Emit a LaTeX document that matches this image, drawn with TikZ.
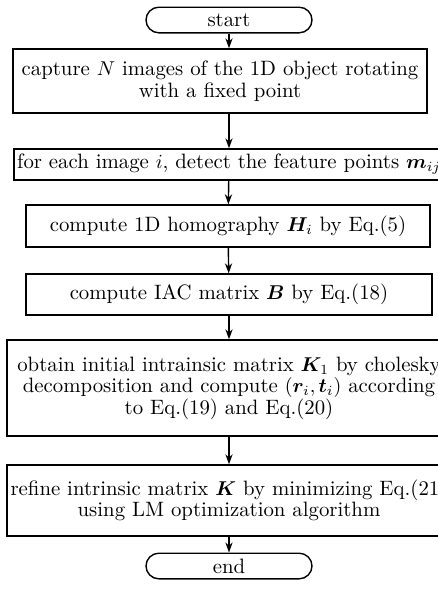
\documentclass[tikz,border=0pt]{standalone}
\usepackage{amsmath,amssymb,bm}
\usepackage{tikz}
\usetikzlibrary{arrows.meta}

\begin{document}
\begin{tikzpicture}[x=0.5pt, y=-0.5pt, line width=0.7pt, font=\fontsize{10.4}{10.8}\selectfont,
  flowbox/.style={draw, align=center, inner sep=0pt},
  termbox/.style={draw, rounded corners=6.4pt, minimum width=83pt, minimum height=12.8pt, inner sep=0pt},
  flowarrow/.style={-{Stealth[length=5pt, width=3.6pt]}}]
  \useasboundingbox (0,0) rectangle (438,590);
  \clip (0,0) rectangle (438,590);
  \node[termbox] (start) at (229,20) {start};
  \node[flowbox, minimum width=207pt, minimum height=32pt] (capture) at (220,81) {capture $N$ images of the 1D object rotating\\ with a fixed point};
  \node[flowbox, minimum width=215pt, minimum height=15.5pt] (detect) at (229,164.5) {for each image $i$, detect the feature points $\bm{m}_{ij}$};
  \node[flowbox, minimum width=202pt, minimum height=21pt] (homog) at (228,226) {compute 1D homography $\bm{H}_i$ by Eq.(5)};
  \node[flowbox, minimum width=203pt, minimum height=20.5pt] (iac) at (229,294.5) {compute IAC matrix $\bm{B}$ by Eq.(18)};
  \node[flowbox, minimum width=222pt, minimum height=48pt] (init) at (229,388) {obtain initial intrainsic matrix $\bm{K}_1$ by cholesky\\ decomposition and compute $(\bm{r}_i, \bm{t}_i)$ according\\ to Eq.(19) and Eq.(20)};
  \node[flowbox, minimum width=222pt, minimum height=35.5pt] (refine) at (229,500.5) {refine intrinsic matrix $\bm{K}$ by minimizing Eq.(21)\\ using LM optimization algorithm};
  \node[termbox] (end) at (229,566) {end};
  \draw[flowarrow] (start) -- (start |- capture.north);
  \draw[flowarrow] (start |- capture.south) -- (detect);
  \draw[flowarrow] (detect) -- (homog);
  \draw[flowarrow] (homog) -- (iac);
  \draw[flowarrow] (iac) -- (init);
  \draw[flowarrow] (init) -- (refine);
  \draw[flowarrow] (refine) -- (end);
\end{tikzpicture}
\end{document}
